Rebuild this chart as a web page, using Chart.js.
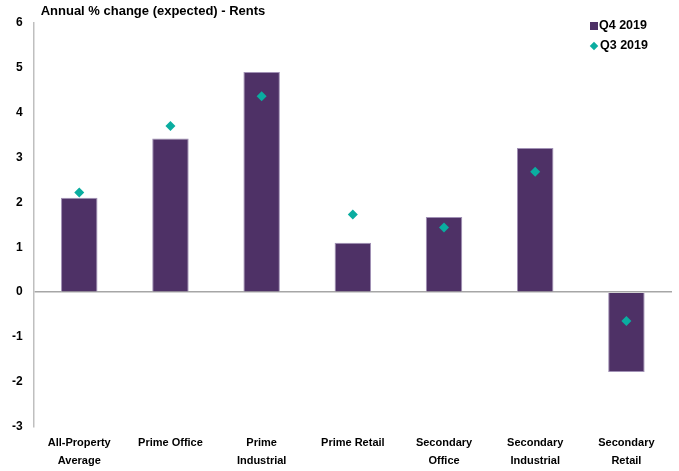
<!DOCTYPE html>
<html>
<head>
    <meta charset="UTF-8"/>
    <title>Annual % change (expected) - Rents</title>
    <script src="https://cdn.jsdelivr.net/npm/chart.js@4/dist/chart.umd.min.js"></script>
    <style>
        body { margin: 0; background: #fff; }
        #wrap { position: relative; width: 679px; height: 471px; }
        #legend { position: absolute; left: 590px; top: 16px; font: bold 12.5px "Liberation Sans", Arial, sans-serif; color: #000; }
        #legend div { height: 20px; line-height: 18px; white-space: nowrap; }
        #legend span { display: inline-block; vertical-align: middle; margin-right: 1px; }
    </style>
</head>
<body>
<div id="wrap">
    <canvas id="graficoRents"></canvas>
    <div id="legend"></div>
</div>
<script type="text/javascript">
    var categorie = [
        ["All-Property", "Average"],
        "Prime Office",
        ["Prime", "Industrial"],
        "Prime Retail",
        ["Secondary", "Office"],
        ["Secondary", "Industrial"],
        ["Secondary", "Retail"]
    ];
    var q4_2019 = [2.1, 3.42, 4.9, 1.1, 1.67, 3.21, -1.78];
    var q3_2019 = [2.22, 3.7, 4.36, 1.73, 1.44, 2.68, -0.64];
    var yTicks = [-3, -2, -1, 0, 1, 2, 3, 4, 5, 6];

    var viola = "#4E3166";
    var verde = "#0AADA0";
    var font = "'Liberation Sans', Arial, sans-serif";

    // sposta il titolo un po' a destra dell'asse
    var spostaTitolo = {
        id: 'spostaTitolo',
        afterLayout: function (chart) {
            if (chart.titleBlock) {
                chart.titleBlock.left += 7;
                chart.titleBlock.right += 7;
            }
        }
    };

    var ctx = document.getElementById("graficoRents");
    var myChart = new Chart(ctx, {
        type: 'bar',
        data: {
            labels: categorie,
            datasets: [
                {
                    label: "Q4 2019",
                    data: q4_2019,
                    backgroundColor: viola,
                    borderColor: "#a191b5",
                    borderWidth: 1,
                    barPercentage: 0.4,
                    categoryPercentage: 1,
                    order: 1
                },
                {
                    type: 'line',
                    label: "Q3 2019",
                    data: q3_2019,
                    showLine: false,
                    pointStyle: 'rectRot',
                    pointRadius: 5,
                    pointBackgroundColor: verde,
                    pointBorderColor: verde,
                    pointBorderWidth: 0,
                    order: 0
                }
            ]
        },
        options: {
            responsive: true,
            maintainAspectRatio: false,
            animation: false,
            layout: { padding: { left: 1, right: 7, top: 0, bottom: -6 } },
            plugins: {
                legend: { display: false },
                tooltip: { enabled: false },
                title: {
                    display: true,
                    text: "Annual % change (expected) - Rents",
                    align: 'start',
                    fullSize: false,
                    color: "#000",
                    font: { family: font, size: 13, weight: 'bold', lineHeight: 1.2 },
                    padding: { top: 4, bottom: 3 }
                }
            },
            scales: {
                x: {
                    grid: { display: false, drawTicks: false },
                    border: { display: false },
                    ticks: {
                        color: "#000",
                        padding: 8,
                        maxRotation: 0,
                        autoSkip: false,
                        font: { family: font, size: 11, weight: 'bold', lineHeight: 1.55 }
                    }
                },
                y: {
                    min: -3,
                    max: 6,
                    afterBuildTicks: function (scale) {
                        scale.ticks = yTicks.map(function (v) { return { value: v }; });
                    },
                    grid: {
                        drawTicks: false,
                        color: function (c) { return c.tick && c.tick.value === 0 ? "#a6a6a6" : "rgba(0,0,0,0)"; },
                        lineWidth: 1.5
                    },
                    border: { display: true, color: "#bfbfbf", width: 1.5 },
                    ticks: {
                        color: "#000",
                        padding: 11,
                        font: { family: font, size: 12, weight: 'bold' }
                    }
                }
            }
        },
        plugins: [spostaTitolo]
    });

    // legenda html dai dataset
    var legend = document.getElementById("legend");
    myChart.data.datasets.forEach(function (ds) {
        var row = document.createElement("div");
        var sw = document.createElement("span");
        if (ds.type === 'line') {
            sw.style.cssText = "width:6px;height:6px;margin-left:1px;margin-right:3px;background:" + ds.pointBackgroundColor + ";transform:rotate(45deg);";
        } else {
            sw.style.cssText = "width:8px;height:8px;background:" + ds.backgroundColor + ";";
        }
        row.appendChild(sw);
        row.appendChild(document.createTextNode(ds.label));
        legend.appendChild(row);
    });
</script>
</body>
</html>
